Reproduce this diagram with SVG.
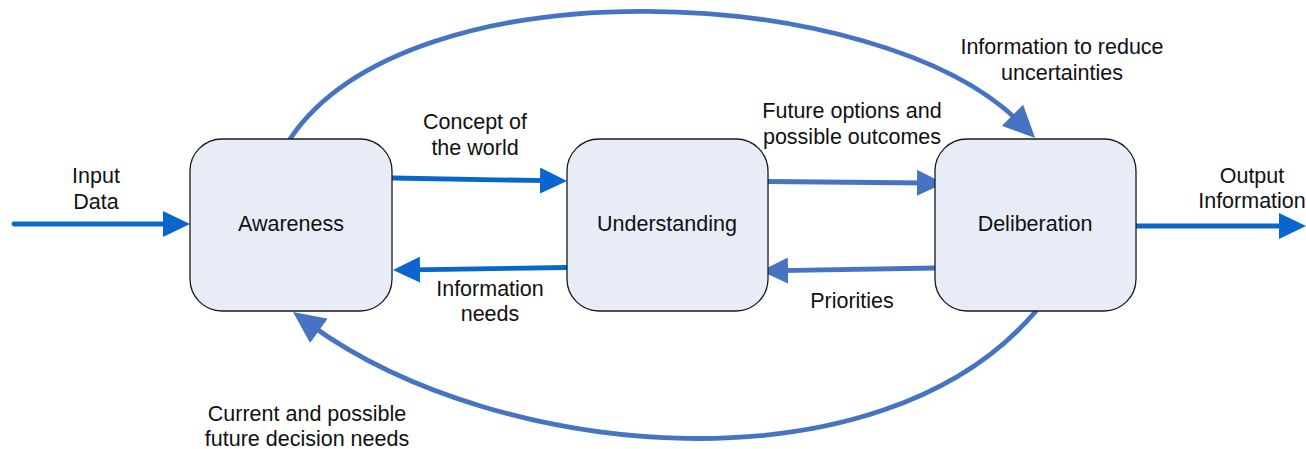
<svg xmlns="http://www.w3.org/2000/svg" width="1306" height="449" viewBox="0 0 1306 449">
<style>
.box{fill:#E8ECF7;stroke:#1a1a1a;stroke-width:1.3}
.t{font-family:"Liberation Sans",Arial,sans-serif;font-size:21.5px;fill:#111;text-anchor:middle}
.a1{fill:none;stroke:#0866CC;stroke-width:4.8;stroke-linecap:round}
.a2{fill:none;stroke:#4674C2;stroke-width:4.8;stroke-linecap:round}
</style>
<defs>
<marker id="h1" markerUnits="userSpaceOnUse" markerWidth="27" markerHeight="26" refX="9" refY="13" orient="auto">
<path d="M0,0 L27,13 L0,26 z" fill="#0866CC"/>
</marker>
<marker id="h2" markerUnits="userSpaceOnUse" markerWidth="27" markerHeight="26" refX="9" refY="13" orient="auto">
<path d="M0,0 L27,13 L0,26 z" fill="#4674C2"/>
</marker>
<marker id="h3" markerUnits="userSpaceOnUse" markerWidth="32" markerHeight="30" refX="10" refY="15" orient="auto">
<path d="M0,0 L32,15 L0,30 z" fill="#4674C2"/>
</marker>
</defs>
<g id="connectors">
<path class="a1" d="M14,224 L172,224" marker-end="url(#h1)"/>
<path class="a1" d="M392,178 L549,180.7" marker-end="url(#h1)"/>
<path class="a1" d="M567,267.5 L411,269.8" marker-end="url(#h1)"/>
<path class="a2" d="M768,181.5 L926,183" marker-end="url(#h2)"/>
<path class="a2" d="M936,268 L779,270.7" marker-end="url(#h2)"/>
<path class="a1" d="M1136,226 L1288,226" marker-end="url(#h1)"/>
<path class="a2" d="M290,139 C410,-40 880,-17 1019.6,122.4" marker-end="url(#h3)"/>
<path class="a2" d="M1036,311 C880,495 500,462 310.8,325" marker-end="url(#h3)"/>
</g>
<g id="awareness">
<rect class="box" x="190" y="139" width="202" height="172" rx="32"/>
<text class="t" x="291" y="231">Awareness</text>
</g>
<g id="understanding">
<rect class="box" x="567" y="139" width="201" height="172" rx="32"/>
<text class="t" x="667" y="231">Understanding</text>
</g>
<g id="deliberation">
<rect class="box" x="935" y="139" width="201" height="172" rx="32"/>
<text class="t" x="1035" y="231">Deliberation</text>
</g>
<g id="labels">
<text class="t" x="96" y="183">Input</text>
<text class="t" x="96" y="209">Data</text>
<text class="t" x="475" y="129">Concept of</text>
<text class="t" x="475" y="155">the world</text>
<text class="t" x="490" y="296">Information</text>
<text class="t" x="490" y="321">needs</text>
<text class="t" x="852" y="118">Future options and</text>
<text class="t" x="852" y="144">possible outcomes</text>
<text class="t" x="852" y="308">Priorities</text>
<text class="t" x="1062" y="54">Information to reduce</text>
<text class="t" x="1062" y="80">uncertainties</text>
<text class="t" x="1252" y="183">Output</text>
<text class="t" x="1252" y="208">Information</text>
<text class="t" x="307" y="421">Current and possible</text>
<text class="t" x="307" y="446">future decision needs</text>
</g>
</svg>
